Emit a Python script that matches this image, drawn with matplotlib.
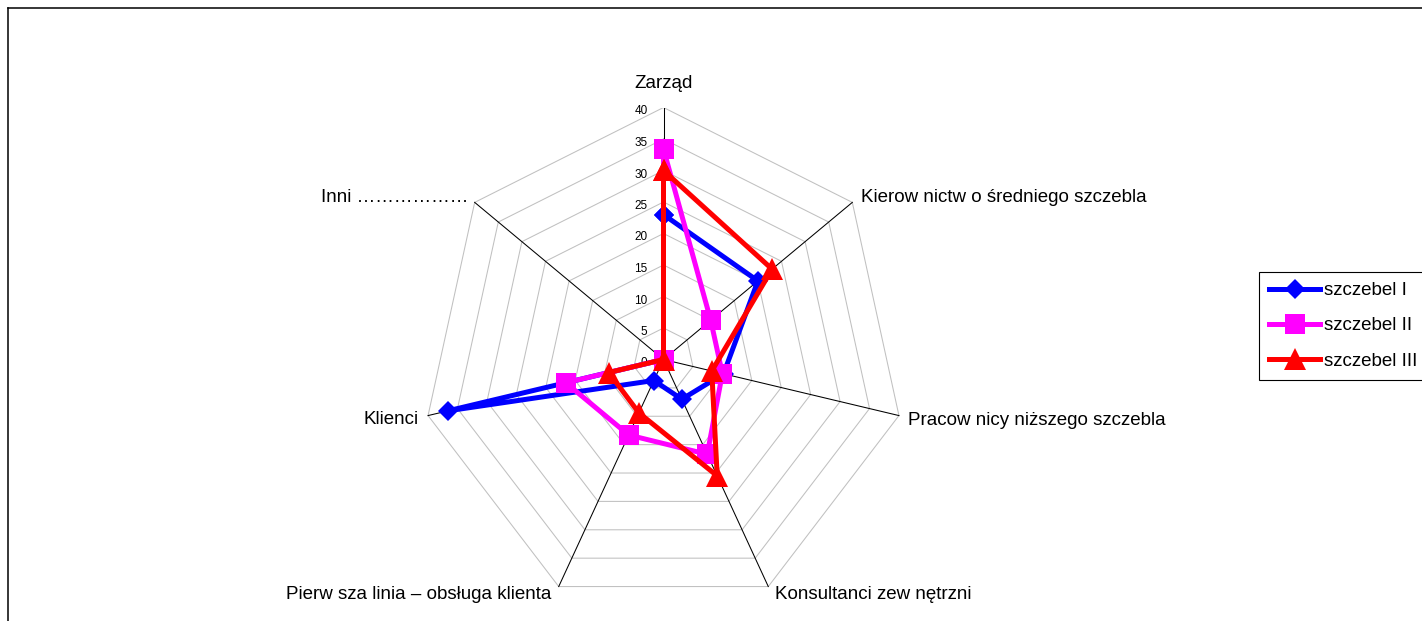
import numpy as np
import matplotlib
matplotlib.use("Agg")
import matplotlib.pyplot as plt
from matplotlib.lines import Line2D

plt.rcParams["font.family"] = ["Liberation Sans", "DejaVu Sans"]

# Radar categories (clockwise from the top)
categories = [
    "Zarząd",
    "Kierow nictw o średniego szczebla",
    "Pracow nicy niższego szczebla",
    "Konsultanci zew nętrzni",
    "Pierw sza linia – obsługa klienta",
    "Klienci",
    "Inni ………………",
]
series_names = ["szczebel I", "szczebel II", "szczebel III"]
szczebel_1 = [23, 20, 10.2, 7, 3.7, 36.6, 0]
szczebel_2 = [33.4, 10, 10, 16.7, 13.3, 16.6, 0]
szczebel_3 = [30, 23, 8.2, 20.5, 9.4, 9.3, 0]
radial_ticks = [0, 5, 10, 15, 20, 25, 30, 35, 40]

W, H = 1422, 621
PX = 0.72  # points per pixel at 100 dpi

fig = plt.figure(figsize=(W / 100, H / 100), dpi=100)
fig.patch.set_facecolor("white")

# plot area: centre (663.5, 359.5) px, 40 units -> 241.5 px across, 252 px up
cx, cy, rx, ry = 663.5, 359.5, 241.5, 252.0
ax = fig.add_axes([(cx - rx) / W, (H - cy - ry) / H, 2 * rx / W, 2 * ry / H])
rmax = radial_ticks[-1]
ax.set_xlim(-rmax, rmax)
ax.set_ylim(-rmax, rmax)
ax.axis("off")

n = len(categories)
theta = np.arange(n) * 2 * np.pi / n


def to_xy(values):
    v = np.asarray(values, dtype=float)
    return v * np.sin(theta), v * np.cos(theta)


def closed(a):
    return np.append(a, a[0])


# heptagonal grid rings
for t in radial_ticks[1:]:
    gx, gy = to_xy(np.full(n, t))
    ax.plot(closed(gx), closed(gy), color="#c0c0c0", lw=0.75, zorder=1,
            solid_joinstyle="miter")

# spokes
sx, sy = to_xy(np.full(n, rmax))
for x_end, y_end in zip(sx, sy):
    ax.plot([0, x_end], [0, y_end], color="black", lw=0.75, zorder=2)

# radial tick labels along the top spoke
for t in radial_ticks:
    ax.annotate(str(t), xy=(0, t), xytext=(-16 * PX, -4 * PX),
                textcoords="offset points", ha="right", va="center",
                fontsize=8.5, color="black")

# category labels at the spoke ends
label_style = [
    ((0, 19), "center"),
    ((9, 0), "left"),
    ((9, -9), "left"),
    ((7, -12.6), "left"),
    ((-7.5, -12.6), "right"),
    ((-9, -8.5), "right"),
    ((-6, 0), "right"),
]
for name, x_end, y_end, ((dx, dy), ha) in zip(categories, sx, sy, label_style):
    ax.annotate(name, xy=(x_end, y_end), xytext=(dx * PX, dy * PX),
                textcoords="offset points", ha=ha, va="baseline",
                fontsize=13.5, color="black")

# data series
styles = [
    ("#0000FF", "D", 10.5),
    ("#FF00FF", "s", 14.4),
    ("#FF0000", "^", 15.5),
]
handles = []
for name, values, (color, marker, ms) in zip(
        series_names, [szczebel_1, szczebel_2, szczebel_3], styles):
    x, y = to_xy(values)
    ln, = ax.plot(closed(x), closed(y), color=color, lw=3.6, marker=marker,
                  ms=ms, mew=0, label=name, zorder=3, clip_on=False,
                  solid_joinstyle="round")
    handles.append(ln)

leg = fig.legend(handles=handles, labels=series_names, loc="upper left",
                 bbox_to_anchor=(1259 / W, 1 - 271.7 / H), borderaxespad=0,
                 fontsize=13.5, frameon=True, fancybox=False, shadow=False,
                 framealpha=1, edgecolor="black", handlelength=2.72,
                 handletextpad=0.2, borderpad=0.55, labelspacing=0.97,
                 numpoints=1)
leg.get_frame().set_linewidth(0.8)

# chart border (left and top edges fall inside the canvas)
fig.add_artist(Line2D([8 / W, 8 / W], [0, 1 - 8 / H], transform=fig.transFigure,
                      color="black", lw=1.1))
fig.add_artist(Line2D([8 / W, 1], [1 - 8 / H, 1 - 8 / H], transform=fig.transFigure,
                      color="black", lw=1.1))

fig.savefig("out.png", dpi=100, facecolor="white")
